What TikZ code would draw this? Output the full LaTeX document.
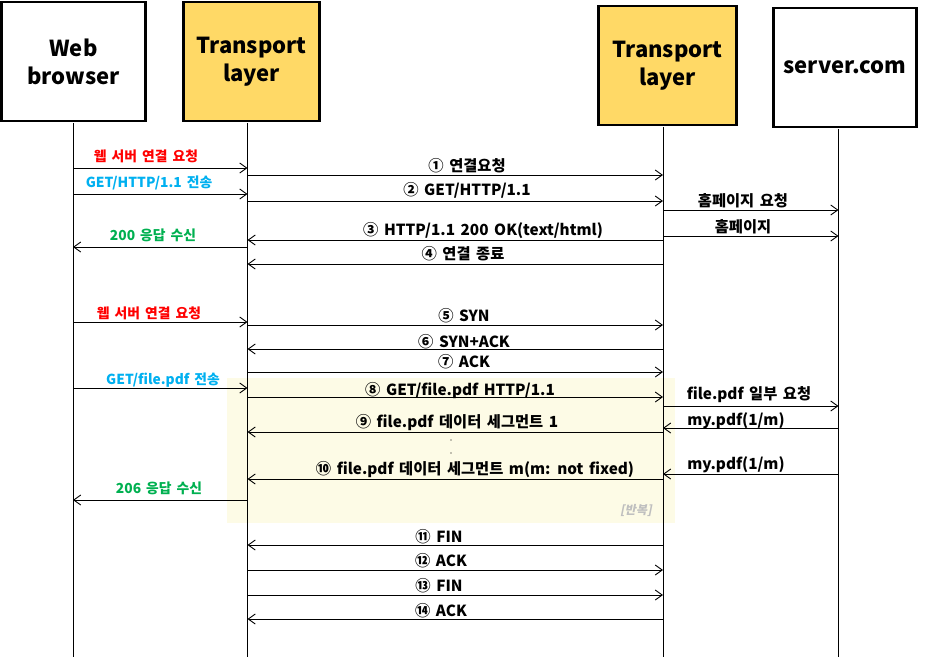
\documentclass[tikz,border=0pt]{standalone}
\usepackage{fontspec}
\setmainfont{Noto Sans CJK KR}[WordSpace=1.6]
\newfontfamily\krslant{Noto Sans CJK KR}[FakeSlant=0.2]
\usetikzlibrary{arrows.meta}
\definecolor{boxyellow}{HTML}{FFD966}
\definecolor{shadebg}{RGB}{253,251,230}
\definecolor{kred}{HTML}{FF0000}
\definecolor{kblue}{HTML}{00B0F0}
\definecolor{kgreen}{HTML}{00B050}
\definecolor{kgray}{HTML}{BFBFBF}
\begin{document}
\begin{tikzpicture}[x=1pt,y=-1pt,
  actor/.style={draw, line width=2.6pt, minimum height=119pt, inner sep=0pt, align=center,
    font=\bfseries\fontsize{22}{28}\selectfont},
  life/.style={line width=0.9pt},
  msg/.style={line width=1pt, -{Straight Barb[length=7pt,width=10pt,line width=0.9pt]}},
  lbl/.style={inner sep=0pt, text height=11pt, text depth=0pt, font=\bfseries\fontsize{15.3}{18}\selectfont},
  slbl/.style={inner sep=0pt, text height=10pt, text depth=0pt, font=\bfseries\fontsize{13.8}{16}\selectfont}
]
\useasboundingbox (0,0) rectangle (929,657);
% repeated-section shading
\fill[shadebg] (227,378) rectangle (675,523);

% actors
\node[actor, minimum width=144pt] (wb) at (73.5,61.5) {Web\\browser};
\node[actor, minimum width=136pt, fill=boxyellow] (tl) at (251.5,61.5) {Transport\\layer};
\node[actor, minimum width=138pt, fill=boxyellow] (tr) at (667.5,65.5) {Transport\\layer};
\node[actor, minimum width=143pt] (sv) at (845,67.5) {server.com};

% lifelines
\coordinate (wbT) at (73,122.8);   \coordinate (wbB) at (73,657);
\coordinate (tlT) at (247.5,122.8); \coordinate (tlB) at (247.5,657);
\coordinate (trT) at (663,126.8);  \coordinate (trB) at (663,657);
\coordinate (svT) at (838.5,128.8); \coordinate (svB) at (838.5,657);
\draw[life] (wbT) -- (wbB);
\draw[life] (tlT) -- (tlB);
\draw[life] (trT) -- (trB);
\draw[life] (svT) -- (svB);

% browser <-> transport
\draw[msg] (wbT |- 0,168) -- (tlT |- 0,168);
\node[slbl, text=kred] (a1) at (146,156) {웹 서버 연결 요청};
\draw[msg] (wbT |- 0,194) -- (tlT |- 0,194);
\node[slbl, text=kblue] (a2) at (149,182.5) {GET/HTTP/1.1 전송};
\draw[msg] (tlT |- 0,247) -- (wbT |- 0,247);
\node[slbl, text=kgreen] (a3) at (153,235) {200 응답 수신};
\draw[msg] (wbT |- 0,322) -- (tlT |- 0,322);
\node[slbl, text=kred] (a4) at (149,313.5) {웹 서버 연결 요청};
\draw[msg] (wbT |- 0,388) -- (tlT |- 0,388);
\node[slbl, text=kblue] (a5) at (163,379) {GET/file.pdf 전송};
\draw[msg] (tlT |- 0,500) -- (wbT |- 0,500);
\node[slbl, text=kgreen] (a6) at (159,488.5) {206 응답 수신};

% transport <-> transport
\draw[msg] (tlT |- 0,175) -- (trT |- 0,175);
\node[lbl] (m1) at (467,165.5) {① 연결요청};
\draw[msg] (tlT |- 0,201) -- (trT |- 0,201);
\node[lbl] (m2) at (467,189.5) {② GET/HTTP/1.1};
\draw[msg] (trT |- 0,240) -- (tlT |- 0,240);
\node[lbl] (m3) at (483,229.5) {③ HTTP/1.1 200 OK(text/html)};
\draw[msg] (trT |- 0,264) -- (tlT |- 0,264);
\node[lbl] (m4) at (463,253.5) {④ 연결 종료};
\draw[msg] (tlT |- 0,325) -- (trT |- 0,325);
\node[lbl] (m5) at (464,315.5) {⑤ SYN};
\draw[msg] (trT |- 0,349) -- (tlT |- 0,349);
\node[lbl] (m6) at (464,341.5) {⑥ SYN+ACK};
\draw[msg] (tlT |- 0,372) -- (trT |- 0,372);
\node[lbl] (m7) at (464,361.5) {⑦ ACK};
\draw[msg] (tlT |- 0,397) -- (trT |- 0,397);
\node[lbl] (m8) at (460,389.5) {⑧ GET/file.pdf HTTP/1.1};
\draw[msg] (trT |- 0,432) -- (tlT |- 0,432);
\node[lbl] (m9) at (457,421.5) {⑨ file.pdf 데이터 세그먼트 1};
\fill (451,440) circle (0.7pt);
\fill (451,453) circle (0.7pt);
\draw[msg] (trT |- 0,479) -- (tlT |- 0,479);
\node[lbl] (m10) at (475,468.5) {⑩ file.pdf 데이터 세그먼트 m(m: not fixed)};
\node[inner sep=0pt, text=kgray, font=\krslant\bfseries\fontsize{12}{14}\selectfont] (rep) at (636,510) {[반복]};
\draw[msg] (trT |- 0,545) -- (tlT |- 0,545);
\node[lbl] (m11) at (439,536.5) {⑪ FIN};
\draw[msg] (tlT |- 0,570) -- (trT |- 0,570);
\node[lbl] (m12) at (441,560.5) {⑫ ACK};
\draw[msg] (tlT |- 0,595) -- (trT |- 0,595);
\node[lbl] (m13) at (439,585.5) {⑬ FIN};
\draw[msg] (trT |- 0,619) -- (tlT |- 0,619);
\node[lbl] (m14) at (441,610.5) {⑭ ACK};

% transport <-> server
\draw[msg] (trT |- 0,210) -- (svT |- 0,210);
\node[lbl] (s1) at (743,200.5) {홈페이지 요청};
\draw[msg] (trT |- 0,236) -- (svT |- 0,236);
\node[lbl] (s2) at (743,226.5) {홈페이지};
\draw[msg] (trT |- 0,406) -- (svT |- 0,406);
\node[lbl] (s3) at (749,393.5) {file.pdf 일부 요청};
\draw[msg] (svT |- 0,428) -- (trT |- 0,428);
\node[lbl] (s4) at (736,419.5) {my.pdf(1/m)};
\draw[msg] (svT |- 0,474) -- (trT |- 0,474);
\node[lbl] (s5) at (736,463.5) {my.pdf(1/m)};
\end{tikzpicture}
\end{document}
